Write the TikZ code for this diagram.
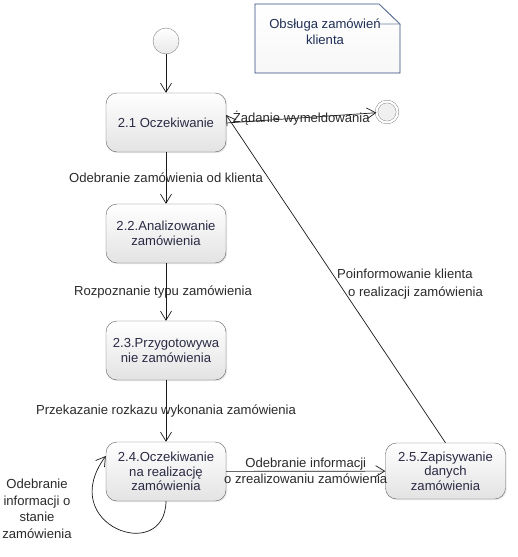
\documentclass[tikz,border=0pt]{standalone}
\usepackage{fontspec}
\setmainfont{Liberation Sans}
\usetikzlibrary{arrows.meta,shadows}
\definecolor{txt}{HTML}{2A2A2A}
\definecolor{boxtxt}{HTML}{2A2A44}
\definecolor{notebd}{HTML}{2F4A78}
\definecolor{notetxt}{HTML}{1F2F55}
\begin{document}
\begin{tikzpicture}[x=1pt,y=-1pt,
  fs/.style={font=\fontsize{13.1}{#1}\selectfont},
  stt/.style={draw=black!62, rounded corners=11pt, minimum width=120pt,
    minimum height=59pt, top color=white, bottom color=black!11,
    align=center, text=boxtxt, fs=14.5, inner sep=2pt,
    drop shadow={shadow xshift=1.2pt, shadow yshift=-1.2pt, opacity=0.18}},
  initst/.style={circle, draw=black!50, minimum size=26pt, inner sep=0pt,
    top color=white, bottom color=black!9},
  finst/.style={circle, draw=black!55, double=white, double distance=2.2pt,
    minimum size=21pt, inner sep=0pt, fill=black!6},
  arr/.style={draw=black!90, line width=0.7pt, -{Straight Barb[length=9pt,width=11pt,line width=0.7pt]}},
  lbl/.style={text=txt, fs=16, align=center, inner sep=1pt}
]
\useasboundingbox (0,0) rectangle (518,557);

% note
\path[draw=notebd, line width=0.7pt, top color=white, bottom color=blue!8!black!3!white]
  (255,4) -- (379,4) -- (400,24) -- (400,73) -- (255,73) -- cycle;
\draw[notebd!70, line width=0.6pt] (379,4) -- (400,24) -- (379,24);
\node[text=notetxt, fs=16, align=center, inner sep=0pt] (note) at (325,32)
  {Obsługa zamówień\\klienta};

% states
\node[initst] (init) at (166,41) {};
\node[finst] (fin) at (387,112) {};
\node[stt] (s1) at (166,122.5) {2.1 Oczekiwanie};
\node[stt] (s2) at (166,233.5) {2.2.Analizowanie\\zamówienia};
\node[stt] (s3) at (166,350.5) {2.3.Przygotowywa\\nie zamówienia};
\node[stt] (s4) at (166,471.5) {2.4.Oczekiwanie\\na realizację\\zamówienia};
\node[stt, minimum height=56pt] (s5) at (445.5,471) {2.5.Zapisywanie\\danych\\zamówienia};

% connectors
\draw[arr] (init) -- (s1);
\draw[arr] ([yshift=-0.5pt]s1.east) -- (fin)
  node[lbl, midway] (l1) {Żądanie wymeldowania};
\draw[arr] (s1) -- (s2)
  node[lbl, midway] (l2) {Odebranie zamówienia od klienta};
\draw[arr] (s2) -- (s3)
  node[lbl, midway, xshift=-3pt] (l3) {Rozpoznanie typu zamówienia};
\draw[arr] (s3) -- (s4)
  node[lbl, midway] (l4) {Przekazanie rozkazu wykonania zamówienia};
\draw[arr] (s4) -- (s5)
  node[lbl, midway] (l5) {Odebranie informacji\\o zrealizowaniu zamówienia};
\draw[arr] (s5.north) -- ([yshift=7.5pt]s1.east);
\node[lbl, align=left, fs=18] (l6) at (410,284)
  {Poinformowanie klienta\\\hspace*{11pt}o realizacji zamówienia};
\draw[arr] (s4.south) .. controls (165,565) and (55,525) .. ([yshift=15.5pt]s4.west);
\node[lbl, fs=16.5] (l7) at (37,509)
  {Odebranie\\informacji o\\stanie\\zamówienia};
\end{tikzpicture}
\end{document}
